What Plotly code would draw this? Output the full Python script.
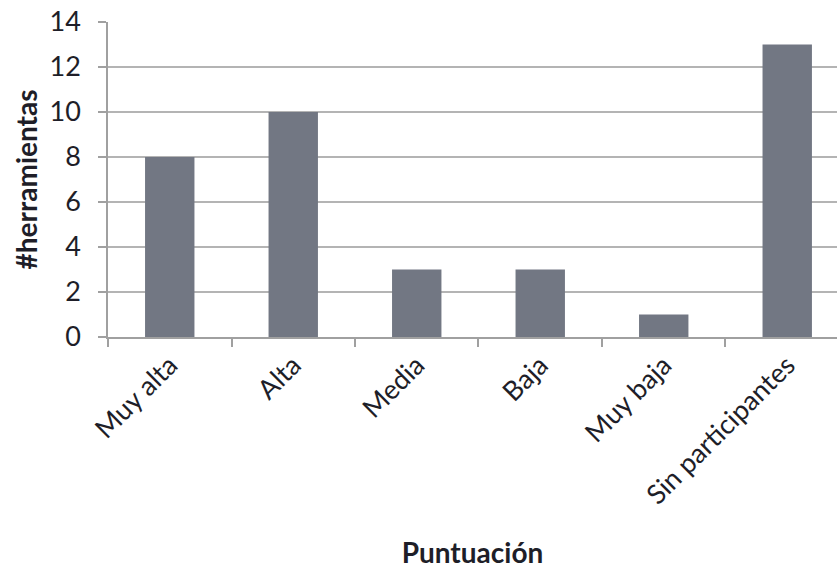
import plotly.graph_objects as go

categories = ["Muy alta", "Alta", "Media", "Baja", "Muy baja", "Sin participantes"]
values = [8, 10, 3, 3, 1, 13]
y_ticks = [0, 2, 4, 6, 8, 10, 12, 14]

font_family = "Lato, 'Open Sans', sans-serif"
text_color = "#1e1e28"

fig = go.Figure(go.Bar(x=categories, y=values, marker=dict(color="#727783", line=dict(width=0)),
                       width=0.4))

fig.update_layout(
    width=837, height=571,
    margin=dict(l=108, r=0, t=22, b=234),
    plot_bgcolor="white", paper_bgcolor="white",
    showlegend=False,
    font=dict(family=font_family, color=text_color),
)
fig.update_xaxes(
    type="category", range=[-0.5, 5.403],
    tickson="boundaries", ticks="outside", ticklen=8, tickcolor="#a0a0a0", tickwidth=1.5,
    showline=True, linecolor="#a0a0a0", linewidth=1.5,
    tickangle=-45, tickfont=dict(size=27, family=font_family, color=text_color),
    title=dict(text="<b>Puntuación</b>", font=dict(size=28, family=font_family, color=text_color), standoff=34),
    showgrid=False,
)
fig.update_yaxes(
    range=[0, 14], tickvals=y_ticks, ticks="outside", ticklen=8, tickcolor="#a0a0a0", tickwidth=1.5,
    showline=True, linecolor="#a0a0a0", linewidth=1.5,
    showgrid=True, gridcolor="#b4b4b4", gridwidth=1.5,
    tickfont=dict(size=27, family=font_family, color=text_color),
    ticklabelstandoff=12,
    title=dict(text="<b>#herramientas</b>", font=dict(size=28, family=font_family, color=text_color), standoff=4),
    zeroline=False,
)

fig.write_html("out.html")
